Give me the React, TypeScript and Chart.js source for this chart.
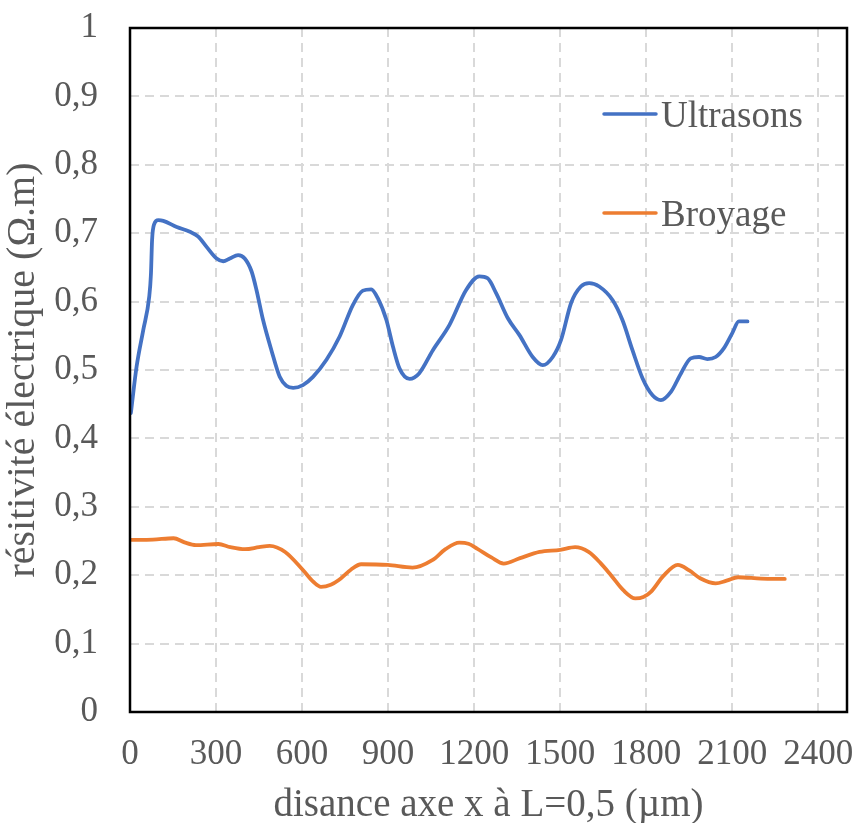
import React, { useEffect, useRef } from "react";
import { Chart, registerables } from "chart.js";

Chart.register(...registerables);

const ultrasonsX = [3, 23, 46, 67, 73, 77, 84, 99, 116, 163, 209, 238, 267, 302, 325, 348, 377, 400, 424, 441, 464, 493, 522, 545, 569, 603, 638, 685, 731, 777, 812, 841, 864, 894, 917, 940, 975, 1008, 1056, 1114, 1172, 1218, 1247, 1277, 1317, 1358, 1404, 1439, 1474, 1503, 1538, 1572, 1601, 1636, 1683, 1717, 1752, 1787, 1822, 1851, 1886, 1921, 1955, 1984, 2013, 2042, 2071, 2100, 2123, 2153];
const ultrasonsY = [0.437, 0.505, 0.558, 0.607, 0.64, 0.69, 0.713, 0.719, 0.718, 0.709, 0.702, 0.695, 0.68, 0.663, 0.659, 0.663, 0.668, 0.663, 0.644, 0.617, 0.573, 0.529, 0.49, 0.477, 0.474, 0.478, 0.49, 0.515, 0.549, 0.595, 0.616, 0.618, 0.605, 0.573, 0.534, 0.502, 0.487, 0.495, 0.529, 0.566, 0.617, 0.637, 0.634, 0.612, 0.576, 0.551, 0.519, 0.507, 0.519, 0.544, 0.598, 0.622, 0.627, 0.622, 0.602, 0.573, 0.529, 0.488, 0.463, 0.456, 0.468, 0.495, 0.517, 0.519, 0.516, 0.519, 0.532, 0.554, 0.571, 0.571];

const broyageX = [0, 80, 152, 190, 230, 308, 350, 401, 450, 487, 541, 603, 640, 666, 700, 728, 770, 806, 899, 985, 1054, 1100, 1148, 1180, 1210, 1260, 1303, 1360, 1428, 1500, 1552, 1599, 1640, 1677, 1720, 1762, 1790, 1817, 1860, 1910, 1950, 1988, 2042, 2080, 2120, 2200, 2283];
const broyageY = [0.2515, 0.252, 0.254, 0.248, 0.244, 0.2456, 0.241, 0.238, 0.241, 0.243, 0.234, 0.2076, 0.19, 0.183, 0.186, 0.193, 0.208, 0.216, 0.215, 0.211, 0.222, 0.238, 0.2475, 0.246, 0.239, 0.226, 0.217, 0.225, 0.234, 0.237, 0.241, 0.234, 0.218, 0.2, 0.178, 0.166, 0.168, 0.176, 0.199, 0.215, 0.207, 0.1955, 0.188, 0.192, 0.197, 0.195, 0.1945];

const seriesLabels = ["Ultrasons", "Broyage"];
const xTicks = [0, 300, 600, 900, 1200, 1500, 1800, 2100, 2400];
const xTitle = "disance axe x à L=0,5 (µm)";
const yTitle = "résitivité électrique (Ω.m)";

const FONT = "'Liberation Serif', 'Times New Roman', serif";
const TEXT = "#595959";

const frameAndLegend = {
  id: "frameAndLegend",
  afterDraw(chart: any) {
    const { ctx, chartArea } = chart;
    ctx.save();
    ctx.strokeStyle = "#000";
    ctx.lineWidth = 2.5;
    ctx.strokeRect(chartArea.left, chartArea.top, chartArea.right - chartArea.left, chartArea.bottom - chartArea.top);
    const rows = [114, 213];
    chart.data.datasets.forEach((ds: any, i: number) => {
      const y = rows[i];
      ctx.strokeStyle = ds.borderColor;
      ctx.lineWidth = 3.5;
      ctx.lineCap = "round";
      ctx.beginPath();
      ctx.moveTo(604, y);
      ctx.lineTo(656, y);
      ctx.stroke();
      ctx.fillStyle = TEXT;
      ctx.font = `37px ${FONT}`;
      ctx.textBaseline = "alphabetic";
      ctx.textAlign = "left";
      ctx.fillText(ds.label, 661, y + 13);
    });
    ctx.restore();
  },
};

export default function App() {
  const ref = useRef<HTMLCanvasElement | null>(null);
  useEffect(() => {
    if (!ref.current) return;
    const chart = new Chart(ref.current, {
      type: "line",
      data: {
        datasets: [
          {
            label: seriesLabels[0],
            data: ultrasonsX.map((x, i) => ({ x, y: ultrasonsY[i] })),
            borderColor: "#4472C4",
            backgroundColor: "#4472C4",
            borderWidth: 3.8,
            pointRadius: 0,
            cubicInterpolationMode: "monotone",
            borderJoinStyle: "round",
            borderCapStyle: "round",
          },
          {
            label: seriesLabels[1],
            data: broyageX.map((x, i) => ({ x, y: broyageY[i] })),
            borderColor: "#ED7D31",
            backgroundColor: "#ED7D31",
            borderWidth: 3.8,
            pointRadius: 0,
            cubicInterpolationMode: "monotone",
            borderJoinStyle: "round",
            borderCapStyle: "round",
          },
        ],
      },
      options: {
        responsive: false,
        animation: false,
        layout: { padding: { left: 0, right: 12, top: 28, bottom: 0 } },
        plugins: { legend: { display: false }, tooltip: { enabled: false } },
        scales: {
          x: {
            type: "linear",
            min: 0,
            max: 2500,
            afterBuildTicks: (scale: any) => {
              scale.ticks = xTicks.map((value) => ({ value }));
            },
            afterFit: (scale: any) => {
              scale.height = 111;
              scale.paddingLeft = 0;
              scale.paddingRight = 0;
            },
            grid: { color: "#d9d9d9", lineWidth: 2, drawTicks: false },
            border: { display: false, dash: [9, 6] },
            ticks: {
              color: TEXT,
              padding: 22,
              maxRotation: 0,
              autoSkip: false,
              font: { family: FONT, size: 35, lineHeight: 1.2 },
              callback: (v: any) => String(Math.round(Number(v))),
            },
            title: {
              display: true,
              text: xTitle,
              color: TEXT,
              font: { family: FONT, size: 39, lineHeight: 0.9 },
              padding: { top: 0, bottom: 0 },
            },
          },
          y: {
            min: 0,
            max: 1,
            afterFit: (scale: any) => {
              scale.width = 130;
              scale.paddingTop = 0;
              scale.paddingBottom = 0;
            },
            grid: { color: "#d9d9d9", lineWidth: 2, drawTicks: false },
            border: { display: false, dash: [9, 6] },
            ticks: {
              stepSize: 0.1,
              color: TEXT,
              padding: 32,
              font: { family: FONT, size: 35 },
              callback: (v: any) => {
                const n = Number(v);
                if (Math.abs(n - Math.round(n)) < 1e-9) return String(Math.round(n));
                return n.toFixed(1).replace(".", ",");
              },
            },
            title: {
              display: true,
              text: yTitle,
              color: TEXT,
              font: { family: FONT, size: 40, lineHeight: 1 },
              padding: { top: 3, bottom: 0 },
            },
          },
        },
      },
      plugins: [frameAndLegend],
    } as any);
    return () => chart.destroy();
  }, []);
  return (
    <div style={{ position: "absolute", left: 0, top: 0, width: 859, height: 823, background: "#fff" }}>
      <canvas ref={ref} width={859} height={823} style={{ width: 859, height: 823, display: "block" }} />
    </div>
  );
}
